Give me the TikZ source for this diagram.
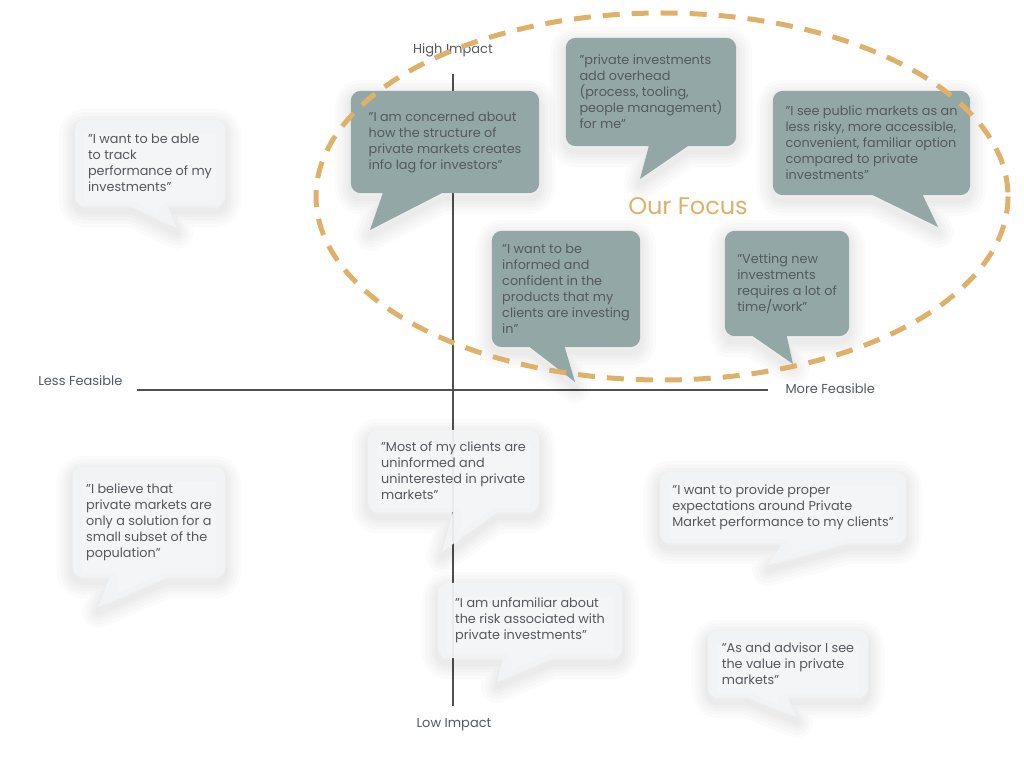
\documentclass[tikz,border=0pt]{standalone}
\usepackage{fontspec}
\setmainfont{Poppins}
\usepackage{xcolor}
\definecolor{slate}{RGB}{147,168,166}
\definecolor{mist}{RGB}{243,244,245}
\definecolor{ink}{RGB}{84,89,95}
\definecolor{sand}{RGB}{222,176,104}
\definecolor{axisgrey}{RGB}{80,80,80}
\pgfdeclarelayer{axes}
\pgfdeclarelayer{bubbles}
\pgfsetlayers{axes,bubbles,main}

% speech bubble outline: node, tail start, tail end (from the left), tip
\newcommand{\bubblepath}[4]{[rounded corners=10] (#1.west) -- (#1.south west) -- ([xshift=#2/2]#1.south west)
    [sharp corners] -- ([xshift=#2]#1.south west) -- #4 -- ([xshift=#3]#1.south west) -- ([xshift=#3+9]#1.south west)
    [rounded corners=10] -- (#1.south east) -- (#1.north east) -- (#1.north west) -- cycle}
% soft shadow first, then the bubble
\newcommand{\bubble}[5]{%
  \foreach \w in {32,25,18,12,6} {\draw[#1 shadow, line width=\w, line join=round, transform canvas={yshift=-5pt}] \bubblepath{#2}{#3}{#4}{#5};}
  \fill[#1] \bubblepath{#2}{#3}{#4}{#5};}

\begin{document}
\begin{tikzpicture}[x=1pt, y=-1pt]
	\tikzstyle{every node} = [font=\fontsize{12.8}{16}\selectfont, text=ink]
	\tikzstyle{quote} = [align=left, inner sep=0]
	\tikzstyle{axislabel} = [font=\fontsize{13}{15}\selectfont, text=ink]
	\tikzstyle{dark} = [fill=slate]
	\tikzstyle{dark shadow} = [draw=black, opacity=0.014]
	\tikzstyle{light} = [fill=mist, fill opacity=0.94]
	\tikzstyle{light shadow} = [draw=black, opacity=0.016]
	\useasboundingbox (0,0) rectangle (1024,762);

	% axes
	\node[axislabel] (high) at (453,50) {High Impact};
	\node[axislabel] (low) at (454,725) {Low Impact};
	\node[axislabel, anchor=east] (less) at (126,381) {Less Feasible};
	\node[axislabel, anchor=west] (more) at (782,389) {More Feasible};
	\coordinate (ytop) at (453,74);
	\coordinate (ybottom) at (453,706);
	\coordinate (xleft) at (137,390);
	\coordinate (xright) at (768,390);
	\begin{pgfonlayer}{axes}
		\draw[axisgrey, line width=1.1pt] (ytop) -- (ybottom) (xleft) -- (xright);
	\end{pgfonlayer}

	% quotes inside the focus area
	\node[quote, minimum width=188, minimum height=102] (concern) at (445,142) {"I am concerned about\\how the structure of\\private markets creates\\info lag for investors"};
	\node[quote, minimum width=170, minimum height=108] (overhead) at (651,92) {"private investments\\add overhead\\(process, tooling,\\people management)\\for me"};
	\node[quote, minimum width=197, minimum height=104] (public) at (871.5,143) {"I see public markets as an\\less risky, more accessible,\\convenient, familiar option\\compared to private\\investments"};
	\node[quote, minimum width=148, minimum height=116] (informed) at (566,289) {"I want to be\\informed and\\confident in the\\products that my\\clients are investing\\in"};
	\node[quote, minimum width=124, minimum height=105] (vetting) at (787,283.5) {"Vetting new\\investments\\requires a lot of\\time/work"};

	% other quotes
	\node[quote, minimum width=150, minimum height=86] (track) at (150,163) {"I want to be able\\to track\\performance of my\\investments"};
	\node[quote, minimum width=152, minimum height=110] (believe) at (149,522) {"I believe that\\private markets are\\only a solution for a\\small subset of the\\population"};
	\node[quote, minimum width=171, minimum height=82] (uninformed) at (453.5,471) {"Most of my clients are\\uninformed and\\uninterested in private\\markets"};
	\node[quote, minimum width=246, minimum height=71] (expect) at (783,507.5) {"I want to provide proper\\expectations around Private\\Market performance to my clients"};
	\node[quote, minimum width=184, minimum height=75] (unfamiliar) at (530,620.5) {"I am unfamiliar about\\the risk associated with\\private investments"};
	\node[quote, minimum width=160, minimum height=66] (advisor) at (788,664) {"As and advisor I see\\the value in private\\markets"};

	\begin{pgfonlayer}{bubbles}
		\bubble{dark}{concern}{32}{91}{(370,230)}
		\bubble{dark}{overhead}{83}{122}{(640,179)}
		\bubble{dark}{public}{100}{150}{(938,227)}
		\bubble{dark}{informed}{38}{73}{(575,382)}
		\bubble{dark}{vetting}{28}{62}{(793,364)}
		\bubble{light}{track}{57}{93}{(177,228)}
		\bubble{light}{believe}{37}{94}{(98,607)}
		\bubble{light}{uninformed}{85}{129}{(442,552)}
		\bubble{light}{expect}{123}{187}{(768,565)}
		\bubble{light}{unfamiliar}{65}{114}{(497,682)}
		\bubble{light}{advisor}{40}{80}{(797,717)}
	\end{pgfonlayer}

	% focus area
	\draw[sand, line width=5pt, dash pattern=on 17pt off 12pt] (662,196.5) ellipse [x radius=346, y radius=183.5];
	\node[text=sand, font=\fontsize{24}{28}\selectfont] (focus) at (688,206) {Our Focus};
\end{tikzpicture}
\end{document}
